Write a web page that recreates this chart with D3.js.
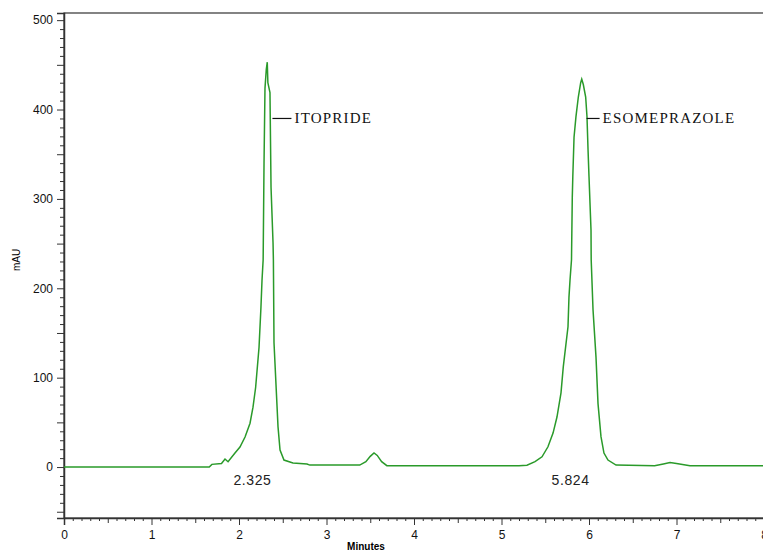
<!DOCTYPE html>
<html>
<head>
<meta charset="utf-8">
<script src="https://cdn.jsdelivr.net/npm/d3@7"></script>
<style>
  body { margin: 0; background: #fff; }
  svg { display: block; }
  .tick text { font-family: "Liberation Sans", Arial, sans-serif; font-size: 12px; fill: #111; }
</style>
</head>
<body>
<svg id="chart" width="763" height="552"></svg>
<script>
// chromatogram trace (minutes, mAU)
const times = [0, 1.66, 1.69, 1.80, 1.84, 1.875, 1.954, 2.011, 2.069, 2.126, 2.16, 2.19, 2.229, 2.251,
  2.263, 2.276, 2.286, 2.297, 2.312, 2.323, 2.33, 2.354, 2.366, 2.389, 2.393, 2.40, 2.446, 2.469,
  2.514, 2.617, 2.777, 2.81, 3.38, 3.45, 3.5, 3.543, 3.58, 3.63, 3.69, 5.2, 5.291, 5.383, 5.463, 5.531, 5.589,
  5.634, 5.68, 5.706, 5.76, 5.771, 5.783, 5.80, 5.809, 5.815, 5.829, 5.851, 5.878, 5.905, 5.917,
  5.935, 5.962, 5.977, 5.989, 6.0, 6.023, 6.025, 6.046, 6.08, 6.103, 6.137, 6.171, 6.217, 6.309,
  6.75, 6.85, 6.926, 7.0, 7.154, 8];
const mAU = [0, 0, 3, 4, 9, 6, 15.7, 22.4, 33.6, 49, 67, 89, 134, 179,
  209, 232, 340, 424, 445, 453, 430, 419, 313, 251, 232, 139, 45, 19,
  7.8, 4.5, 3.4, 2.2, 2.2, 6, 12, 15.7, 13, 6, 1.5, 1.5, 2, 6, 11.5, 22.7, 38,
  56, 83, 112, 157, 190, 209, 232, 302, 325, 369, 392, 414, 430, 434,
  428, 414, 392, 355, 325, 265, 232, 176, 123, 71, 34, 15.7, 7.8, 2.2,
  1.5, 3.5, 5, 4, 1.5, 1.5];

const peakNames = ["ITOPRIDE", "ESOMEPRAZOLE"];
const peakTimes = [2.325, 5.824];
const xTicks = [0, 1, 2, 3, 4, 5, 6, 7, 8];
const yTicks = [0, 100, 200, 300, 400, 500];

const svg = d3.select("#chart");
const plotLeft = 64, plotRight = 764, plotTop = 13, plotBottom = 518;

const x = d3.scaleLinear().domain([0, 8]).range([plotLeft, plotRight]);
const y = d3.scaleLinear().domain([-57, 508]).range([plotBottom, plotTop]);

// frame
svg.append("rect")
  .attr("x", plotLeft).attr("y", plotTop)
  .attr("width", plotRight - plotLeft).attr("height", plotBottom - plotTop)
  .attr("fill", "none").attr("stroke", "#333").attr("stroke-width", 1.2);

// y axis: major + minor ticks
const yMinor = d3.range(-50, 501, 10).filter(v => v % 50 !== 0);
const yMid = [-50, 50, 150, 250, 350, 450];
svg.append("g").attr("transform", `translate(${plotLeft},0)`)
  .call(d3.axisLeft(y).tickValues(yMinor).tickSize(4).tickFormat(""))
  .call(g => g.select(".domain").remove());
svg.append("g").attr("transform", `translate(${plotLeft},0)`)
  .call(d3.axisLeft(y).tickValues(yMid).tickSize(7).tickFormat(""))
  .call(g => g.select(".domain").remove());
svg.append("g").attr("transform", `translate(${plotLeft},0)`)
  .call(d3.axisLeft(y).tickValues(yTicks).tickSize(7).tickPadding(4))
  .call(g => g.select(".domain").attr("stroke", "#333").attr("stroke-width", 1.5));

// x axis
const xMinor = d3.range(0, 81, 1).filter(v => v % 5 !== 0).map(v => v / 10);
const xMid = d3.range(0.5, 8, 1);
svg.append("g").attr("transform", `translate(0,${plotBottom})`)
  .call(d3.axisBottom(x).tickValues(xMinor).tickSize(3).tickFormat(""))
  .call(g => g.select(".domain").remove());
svg.append("g").attr("transform", `translate(0,${plotBottom})`)
  .call(d3.axisBottom(x).tickValues(xMid).tickSize(5).tickFormat(""))
  .call(g => g.select(".domain").remove());
svg.append("g").attr("transform", `translate(0,${plotBottom})`)
  .call(d3.axisBottom(x).tickValues(xTicks).tickSize(7).tickPadding(5).tickFormat(d3.format("d")))
  .call(g => g.select(".domain").attr("stroke", "#333").attr("stroke-width", 1.5));

svg.selectAll(".tick line").attr("stroke", "#333");

// axis titles
svg.append("text")
  .attr("transform", "translate(20,260) rotate(-90)")
  .attr("text-anchor", "middle")
  .style("font-family", "Liberation Sans, Arial, sans-serif")
  .style("font-size", "10px")
  .text("mAU");
svg.append("text")
  .attr("x", 366).attr("y", 550)
  .attr("text-anchor", "middle")
  .style("font-family", "Liberation Sans, Arial, sans-serif")
  .style("font-size", "10px").style("font-weight", "bold")
  .text("Minutes");

// trace
const pts = times.map((t, i) => [t, mAU[i]]);
svg.append("path")
  .datum(pts)
  .attr("fill", "none")
  .attr("stroke", "#2a9a2a")
  .attr("stroke-width", 1.5)
  .attr("d", d3.line().x(d => x(d[0])).y(d => y(d[1])));

// peak name labels with leader lines
const nameDx = [5, 13];   // px from retention time to leader start
const leaderLen = [19, 13];
const labelY = y(390);
peakNames.forEach((name, i) => {
  const x0 = x(peakTimes[i]) + nameDx[i];
  svg.append("line")
    .attr("x1", x0).attr("x2", x0 + leaderLen[i])
    .attr("y1", labelY).attr("y2", labelY)
    .attr("stroke", "#111").attr("stroke-width", 1.2);
  svg.append("text")
    .attr("x", x0 + leaderLen[i] + 3).attr("y", labelY + 5)
    .style("font-family", "Liberation Serif, Times New Roman, serif")
    .style("font-size", "15px").style("letter-spacing", "1.2px")
    .attr("fill", "#111")
    .text(name);
});

// retention time labels
const rtDx = [-15, -3];
peakTimes.forEach((t, i) => {
  svg.append("text")
    .attr("x", x(t) + rtDx[i]).attr("y", 485)
    .attr("text-anchor", "middle")
    .style("font-family", "Liberation Sans, Arial, sans-serif")
    .style("font-size", "14px").style("letter-spacing", "0.6px")
    .attr("fill", "#222")
    .text(d3.format(".3f")(t));
});
</script>
</body>
</html>
